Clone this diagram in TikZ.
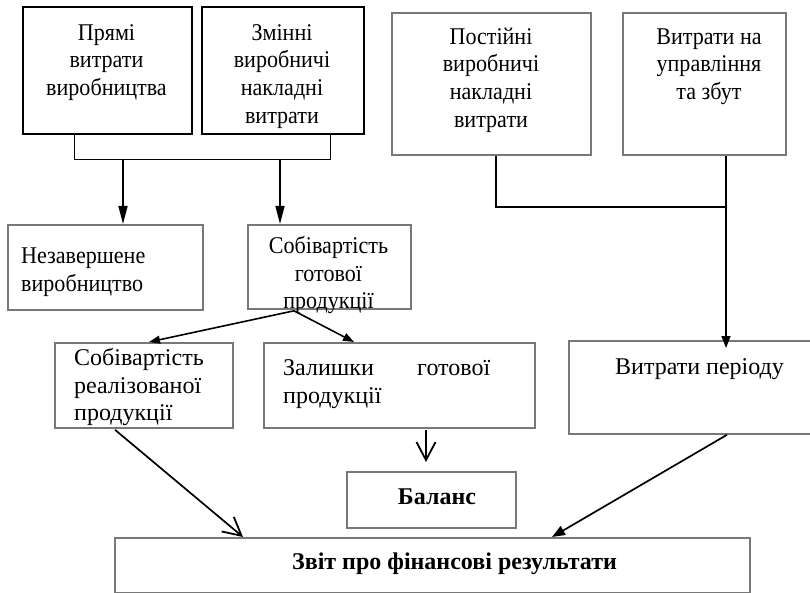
\documentclass[tikz,border=0pt]{standalone}
\usepackage{fontspec}
\setmainfont{Liberation Serif}
\newfontfamily\topfont[FakeStretch=0.92]{Liberation Serif}
\usetikzlibrary{arrows.meta,calc}
\definecolor{boxgray}{RGB}{120,120,120}
\tikzset{
  thickbox/.style={draw=black, line width=2.4pt, inner sep=0pt, anchor=north west},
  graybox/.style={draw=boxgray, line width=1.8pt, inner sep=0pt, anchor=north west},
  txt/.style={font=\topfont\fontsize{24}{27.8}\selectfont, inner sep=0pt, align=center},
  ltxt/.style={font=\fontsize{24}{27.8}\selectfont, inner sep=0pt, align=left},
  btxt/.style={font=\fontsize{24}{27.8}\selectfont\bfseries, inner sep=0pt},
  conn/.style={draw=black, line width=1.2pt},
  tri/.style={draw=black, line width=1.5pt, -{Triangle[length=18pt,width=9pt]}},
  trismall/.style={draw=black, line width=1.6pt, -{Triangle[length=11pt,width=8pt]}},
  barb/.style={draw=black, line width=1.7pt, -{Straight Barb[length=18pt,width=19pt,line width=1.8pt]}}
}
\newcommand{\fl}{\rule{0pt}{17pt}}
\begin{document}
\begin{tikzpicture}[x=1pt,y=-1pt]
\useasboundingbox (0,0) rectangle (810,593);
% boxes
\node[thickbox, minimum width=169pt, minimum height=127pt] (b1) at (22,6) {};
\node[thickbox, minimum width=162pt, minimum height=127pt] (b2) at (201,6) {};
\node[graybox, minimum width=199pt, minimum height=142pt] (b3) at (391,12) {};
\node[graybox, minimum width=163pt, minimum height=142pt] (b4) at (622,12) {};
\node[graybox, minimum width=195pt, minimum height=85pt] (nz) at (7,224) {};
\node[graybox, minimum width=163pt, minimum height=84pt] (sg) at (247,224) {};
\node[graybox, minimum width=178pt, minimum height=85pt] (sr) at (54,342) {};
\node[graybox, minimum width=271pt, minimum height=85pt] (zl) at (263,342) {};
\node[graybox, minimum width=246pt, minimum height=93pt] (vp) at (568,340) {};
\node[graybox, minimum width=169pt, minimum height=56pt] (bal) at (346,471) {};
\node[graybox, minimum width=635pt, minimum height=55pt] (zv) at (114,537) {};
% texts
\node[txt, anchor=north] (t1) at (106.5,23) {\fl Прямі\\витрати\\виробництва};
\node[txt, anchor=north] (t2) at (282,23) {\fl Змінні\\виробничі\\накладні\\витрати};
\node[txt, anchor=north] (t3) at (491,27) {\fl Постійні\\виробничі\\накладні\\витрати};
\node[txt, anchor=north] (t4) at (709,27) {\fl Витрати на\\управління\\та збут};
\node[txt, anchor=north west, align=left] (t5) at (21,246) {\fl Незавершене\\виробництво};
\node[txt, anchor=north] (t6) at (328.5,236) {\fl Собівартість\\готової\\продукції};
\node[ltxt, anchor=north west] (t7) at (74,348) {\fl Собівартість\\реалізованої\\продукції};
\node[ltxt, anchor=north west] (t8) at (283,358) {\fl\makebox[207pt][s]{Залишки готової}\\продукції};
\node[ltxt, anchor=base west] (t9) at (615,374) {Витрати періоду};
\node[btxt, anchor=base] (t10) at (437,504) {Баланс};
\node[btxt, anchor=base] (t11) at (454.5,569) {Звіт про фінансові результати};
% connectors top-left
\coordinate (jl) at (74,160);
\coordinate (jr) at (330,160);
\coordinate (ja) at (123,160);
\coordinate (jb) at (280,160);
\draw[conn, line width=1pt] (b1.south -| jl) -- (jl) -- (jr) -- (b2.south -| jr);
\draw[tri] (ja) -- (ja |- nz.north);
\draw[tri] (jb) -- (jb |- sg.north);
% connectors top-right
\coordinate (jd) at (496,207);
\coordinate (jc) at (726,207);
\draw[conn, line width=1.5pt] (b3.south -| jd) -- (jd) -- (jc);
\draw[conn, line width=1.6pt, -{Triangle[length=12pt,width=9pt]}] (b4.south -| jc) -- ($(jc |- vp.north)+(0,8)$);
% branches
\coordinate (sp) at ($(sg.south west)+(47,1)$);
\draw[trismall] (sp) -- ($(sr.north west)+(95,0)$);
\draw[trismall] (sp) -- ($(zl.north west)+(91,0)$);
% lower arrows
\draw[barb] ($(zl.south west)+(163,1)$) -- ($(bal.north west)+(80,-9)$);
\draw[barb] ($(sr.south west)+(61,1)$) -- ($(zv.north west)+(129,0)$);
\draw[conn, line width=1.7pt, -{Triangle[length=13pt,width=10pt]}] ($(vp.south west)+(159,0)$) -- ($(zv.north west)+(438,0)$);
\end{tikzpicture}
\end{document}
